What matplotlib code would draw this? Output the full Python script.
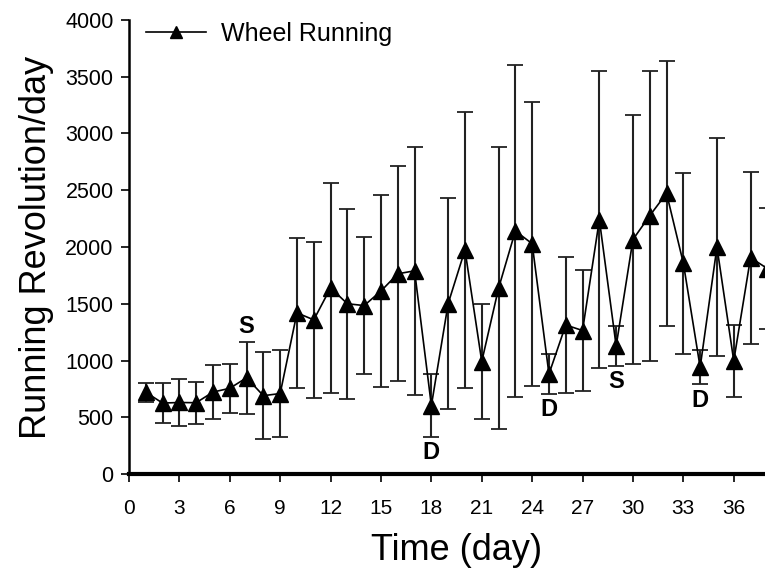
import numpy as np
import matplotlib.pyplot as plt
from matplotlib.lines import Line2D

plt.rcParams['font.family'] = ['Liberation Sans', 'DejaVu Sans']

days = np.arange(1, 39)
revs = [720, 625, 630, 628, 722, 755, 848, 690, 709, 1420,
        1358, 1640, 1500, 1484, 1612, 1764, 1790, 603, 1502, 1974,
        991, 1637, 2141, 2029, 881, 1313, 1264, 2241, 1128, 2066,
        2276, 2473, 1857, 940, 2000, 997, 1906, 1810]
errs = [85, 177, 203, 185, 237, 215, 317, 385, 386, 659,
        686, 924, 838, 600, 848, 947, 1091, 275, 932, 1216,
        509, 1241, 1465, 1251, 179, 599, 530, 1307, 176, 1097,
        1278, 1169, 797, 150, 956, 319, 758, 530]

# treatment marks: S / D, above or below the point
marks = [(7, 'S', 'above'), (18, 'D', 'below'), (25, 'D', 'below'),
         (29, 'S', 'below'), (34, 'D', 'below')]

fig = plt.figure(figsize=(7.65, 5.74), dpi=100)
ax = fig.add_axes([0.1686, 0.1742, 0.8314, 0.791])

ax.errorbar(days, revs, yerr=errs, color='black', marker='^', markersize=11,
            linewidth=1.2, ecolor='#222222', elinewidth=1.5, capsize=6,
            capthick=1.3)

for d, txt, pos in marks:
    i = d - 1
    if pos == 'above':
        ax.annotate(txt, (d, revs[i] + errs[i]), xytext=(0, 3),
                    textcoords='offset points', ha='center', va='bottom',
                    fontsize=17, fontweight='bold')
    else:
        ax.annotate(txt, (d, revs[i] - errs[i]), xytext=(0, -3),
                    textcoords='offset points', ha='center', va='top',
                    fontsize=17, fontweight='bold')

ax.set_xlim(0, 37.86)
ax.set_ylim(0, 4000)
ax.set_xticks(np.arange(0, 37, 3))
ax.set_yticks(np.arange(0, 4001, 500))
ax.tick_params(axis='both', direction='out', length=6, width=1.2)
ax.tick_params(axis='y', labelsize=15.5, pad=5)
ax.tick_params(axis='x', labelsize=15, pad=12)

for s in ['top', 'right']:
    ax.spines[s].set_visible(False)
ax.spines['left'].set_linewidth(1.8)
ax.spines['bottom'].set_linewidth(3)

ax.set_xlabel('Time (day)', fontsize=26)
ax.xaxis.set_label_coords(0.515, -0.13)
ax.set_ylabel('Running Revolution/day', fontsize=26, labelpad=8)

handle = Line2D([], [], color='black', marker='^', markersize=9, linewidth=1.2)
ax.legend([handle], ['Wheel Running'], loc='upper left', frameon=False,
          fontsize=18, handlelength=2.4, handletextpad=0.6,
          bbox_to_anchor=(0.0, 1.035), borderaxespad=0.3)

plt.savefig('out.png', dpi=100)
